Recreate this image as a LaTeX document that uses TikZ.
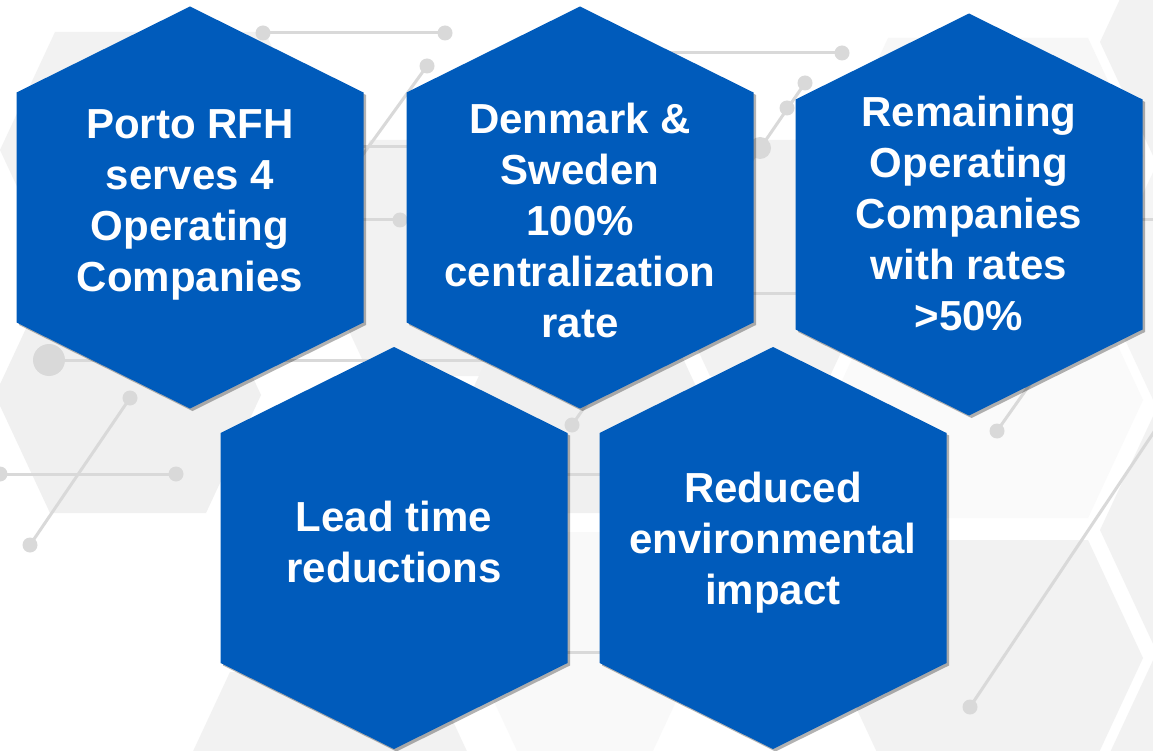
\documentclass[tikz,border=0pt]{standalone}
\usepackage{fontspec}
\setmainfont{Liberation Sans}
\usetikzlibrary{shadows}
\definecolor{hexblue}{RGB}{0,91,187}
\definecolor{netgrey}{RGB}{217,217,217}
\newcommand{\hexcell}[2]{\fill[cellfill] (#1,#2) ++(0,-201) -- ++(173.5,86) -- ++(0,230) -- ++(-173.5,86) -- ++(-173.5,-86) -- ++(0,-230) -- cycle;}
\newcommand{\bghex}[4]{\fill[#4] (#1,#2) ++({-#3-55},0) -- ++(55,-118) -- ++({2*#3},0) -- ++(55,118) -- ++(-55,118) -- ++({-2*#3},0) -- cycle;}

\begin{document}
\begin{tikzpicture}
	[x=1pt,y=-1pt,
	cellfill/.style={fill=hexblue,drop shadow={shadow xshift=2.5pt,shadow yshift=-2.5pt,opacity=.3,fill=black}},
	cell/.style={text=white,font=\fontsize{42}{51}\selectfont\bfseries,align=center,inner sep=0pt},
	net/.style={draw=netgrey,line width=3pt},
	netdot/.style={fill=netgrey}]
	\useasboundingbox (0,0) rectangle (1153,751);
	\clip (0,0) rectangle (1153,751);
	\fill[white] (0,0) rectangle (1153,751);
	\bghex{160}{150}{105}{gray!10}
	\bghex{128}{395}{78}{gray!12}
	\bghex{430}{258}{60}{gray!10}
	\bghex{770}{258}{60}{gray!10}
	\bghex{585}{395}{60}{gray!12}
	\bghex{585}{650}{60}{gray!5}
	\bghex{330}{790}{100}{gray!10}
	\bghex{988}{156}{100}{gray!6}
	\bghex{988}{400}{100}{gray!4}
	\bghex{988}{658}{100}{gray!10}
	\bghex{1255}{42}{100}{gray!10}
	\bghex{1255}{286}{100}{gray!8}
	\bghex{1255}{530}{100}{gray!10}
	\bghex{1255}{774}{100}{gray!10}
	\draw[net] (263,33) -- (445,33);
	\draw[net] (427,66) -- (330,200);
	\draw[net] (300,147) -- (500,147);
	\draw[net] (300,220) -- (400,220);
	\draw[net] (650,53) -- (842,53);
	\draw[net] (805,83) -- (735,185);
	\draw[net] (700,147) -- (760,147);
	\draw[net] (700,293) -- (850,293);
	\draw[net] (49,360) -- (600,360);
	\draw[net] (130,398) -- (30,545);
	\draw[net] (0,474) -- (176,474);
	\draw[net] (480,474) -- (700,474);
	\draw[net] (450,652) -- (700,652);
	\draw[net] (572,425) -- (600,385);
	\draw[net] (997,431) -- (1040,370);
	\draw[net] (970,707) -- (1170,408);
	\draw[net] (1100,220) -- (1153,220);
	\foreach \x/\y/\r in {263/33/7.5,445/33/7.5,427/66/7.5,400/220/7.5,842/53/7.5,805/83/7.5,787/108/7.5,760/148/11,49/360/16,130/398/7.5,30/545/7.5,0/474/7.5,176/474/7.5,572/425/7.5,997/431/7.5,970/707/7.5}
		\fill[netdot] (\x,\y) circle[radius=\r];
	\hexcell{190}{207.5}
	\hexcell{580}{207.5}
	\hexcell{969}{214.5}
	\hexcell{394}{548}
	\hexcell{773}{548}
	\node [cell] (porto) at (190,205) {Porto RFH\\serves 4\\Operating\\Companies};
	\node [cell] (denmark) at (580,220) {Denmark \&\\Sweden\\100\%\\centralization\\rate};
	\node [cell] (remaining) at (969,213) {Remaining\\Operating\\Companies\\with rates\\>50\%};
	\node [cell] (leadtime) at (394,542) {Lead time\\reductions};
	\node [cell] (reduced) at (773,543) {Reduced\\environmental\\impact};
\end{tikzpicture}
\end{document}
